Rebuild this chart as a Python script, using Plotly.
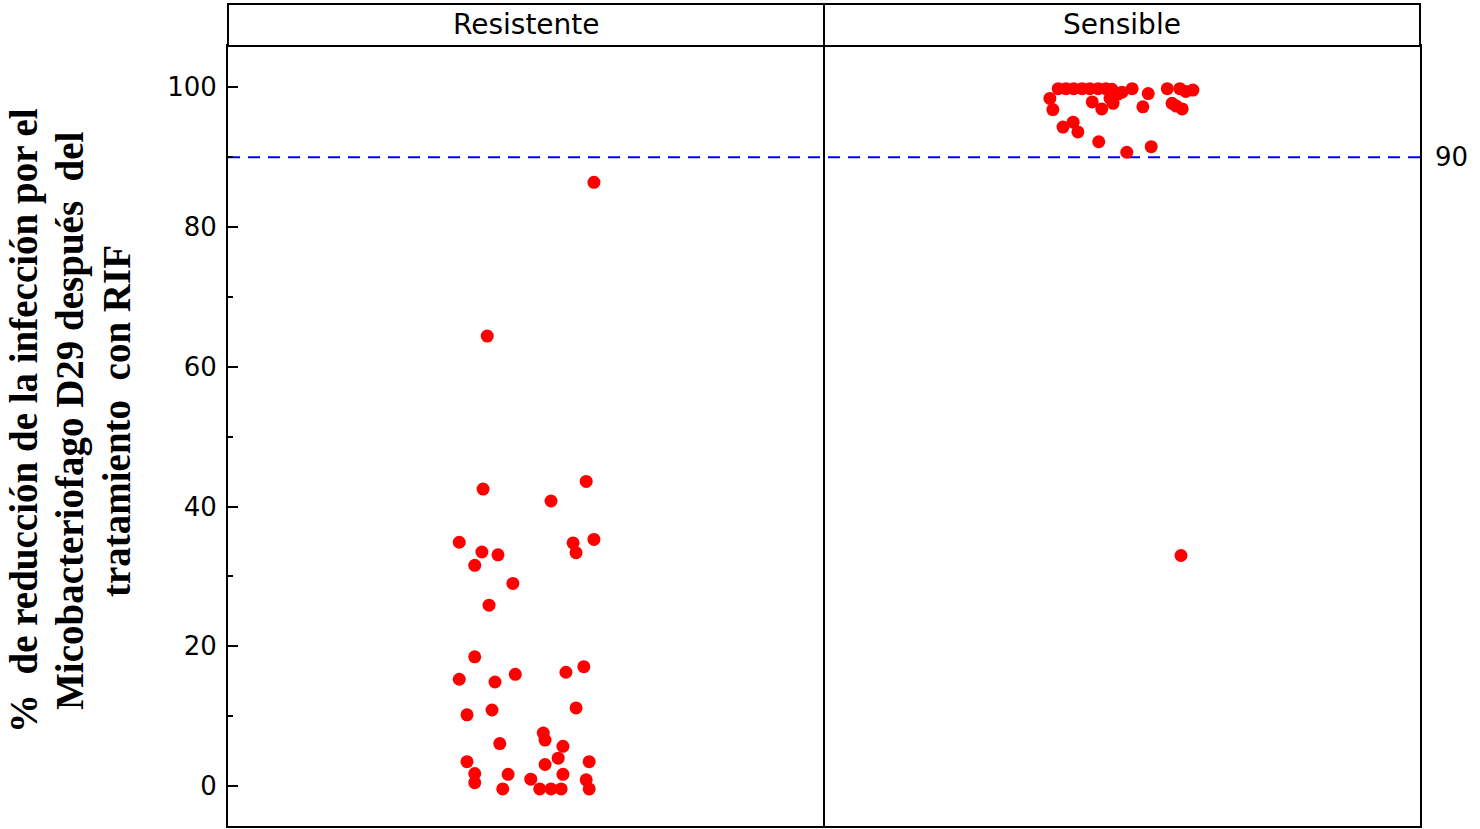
import plotly.graph_objects as go

# --- data -------------------------------------------------------------------
groups = ["Resistente", "Sensible"]
threshold = 90

# % reduction of infection, resistant isolates
res_values = [86.4, 64.4, 42.5, 43.6, 40.8, 34.9, 33.5, 33.1, 31.6, 34.8, 33.4,
              35.3, 29.0, 25.9, 18.5, 15.3, 14.9, 16.0, 16.3, 17.1, 10.2, 10.9,
              11.2, 7.6, 6.6, 6.1, 5.7, 4.0, 3.5, 3.1, 3.5, 1.8, 0.5, 1.7, 1.7,
              1.0, 0.9, -0.4, -0.4, -0.4, -0.4, -0.4]
# horizontal jitter of each resistant point (category units)
res_jitter = [0.114, -0.065, -0.072, 0.101, 0.042, -0.112, -0.074, -0.047,
              -0.086, 0.079, 0.084, 0.114, -0.022, -0.062, -0.086, -0.112,
              -0.052, -0.018, 0.067, 0.097, -0.099, -0.057, 0.084, 0.029,
              0.032, -0.044, 0.062, 0.054, -0.099, 0.032, 0.106, -0.086,
              -0.086, -0.030, 0.062, 0.008, 0.101, -0.039, 0.023, 0.042,
              0.059, 0.106]

# % reduction of infection, sensitive isolates
sen_values = [99.8, 99.8, 99.8, 99.8, 99.8, 99.8, 99.8, 99.7, 99.8, 99.8, 99.8,
              99.6, 99.3, 99.1, 98.4, 96.8, 97.9, 98.4, 97.7, 96.9, 99.0, 97.2,
              97.7, 96.9, 97.3, 99.4, 94.3, 95.0, 93.6, 92.2, 90.7, 91.5, 33.0]
sen_jitter = [-0.107, -0.094, -0.081, -0.067, -0.054, -0.040, -0.027, -0.017,
              0.017, 0.076, 0.097, 0.119, 0.0, 0.044, -0.121, -0.116, -0.050,
              -0.020, -0.015, -0.034, -0.007, 0.035, 0.084, 0.101, 0.091,
              0.107, -0.099, -0.082, -0.074, -0.039, 0.008, 0.049, 0.099]

y_ticks = [0, 20, 40, 60, 80, 100]
y_title_lines = ["%  de reducción de la infección por el",
                 "Micobacteriofago D29 después  del",
                 "tratamiento  con RIF"]

# --- figure -----------------------------------------------------------------
PLOT_W, PLOT_H = 1192, 780
SANS = "DejaVu Sans"

fig = go.Figure()
for i, (vals, jit) in enumerate([(res_values, res_jitter), (sen_values, sen_jitter)]):
    fig.add_trace(go.Scatter(
        x=[i + 1 + j for j in jit], y=vals, mode="markers",
        marker=dict(color="#ff0000", size=13, line=dict(width=0)),
        showlegend=False, hoverinfo="y",
    ))

# reference line at 90 %
fig.add_shape(type="line", xref="paper", yref="y", x0=0, x1=1, y0=threshold, y1=threshold,
              line=dict(color="#0000ff", width=2, dash="12px,8px"), layer="below")
fig.add_annotation(xref="paper", yref="y", x=1, y=threshold, text=str(threshold),
                   showarrow=False, xanchor="left", xshift=13,
                   font=dict(family=SANS, size=26, color="black"))

# panel divider
fig.add_shape(type="line", xref="x", yref="paper", x0=1.5, x1=1.5, y0=0, y1=1,
              line=dict(color="black", width=2))

# facet strips
strip_top = 1 + 42 / PLOT_H
fig.add_shape(type="rect", xref="paper", yref="paper", x0=0, x1=1, y0=1, y1=strip_top,
              line=dict(color="black", width=2), fillcolor="white")
fig.add_shape(type="line", xref="paper", yref="paper", x0=0.5, x1=0.5, y0=1, y1=strip_top,
              line=dict(color="black", width=2))
for k, name in enumerate(groups):
    fig.add_annotation(xref="paper", yref="paper", x=0.25 + 0.5 * k, y=(1 + strip_top) / 2,
                       text=name, showarrow=False, xanchor="center", yanchor="middle",
                       yshift=1, font=dict(family=SANS, size=28, color="black"))

# y-axis title, one rotated line per annotation (left edge of figure = -228 px)
title_centers_px = [24, 70, 117]
for line, cx in zip(y_title_lines, title_centers_px):
    fig.add_annotation(xref="paper", yref="paper", x=(cx - 228) / PLOT_W, y=(826 - 421) / PLOT_H,
                       text=f"<b>{line}</b>", textangle=-90, showarrow=False,
                       xanchor="center", yanchor="middle",
                       font=dict(family="Liberation Serif", size=39, color="black"))

fig.update_xaxes(range=[0.5, 2.5], showticklabels=False, ticks="", showgrid=False,
                 zeroline=False, showline=True, mirror=True, linecolor="black", linewidth=2)
fig.update_yaxes(range=[-5.7, 105.9], tickvals=y_ticks, ticks="inside", ticklen=10,
                 tickwidth=1.5, tickcolor="black", showgrid=False, zeroline=False,
                 showline=True, mirror=True, linecolor="black", linewidth=2,
                 tickfont=dict(family=SANS, size=26, color="black"),
                 ticklabelstandoff=4,
                 minor=dict(tickvals=[10, 30, 50, 70, 90], ticks="inside", ticklen=5,
                            tickwidth=1.5, tickcolor="black"))

fig.update_layout(width=1480, height=829, margin=dict(l=228, r=60, t=46, b=3),
                  plot_bgcolor="white", paper_bgcolor="white")

fig.write_html("out.html")
